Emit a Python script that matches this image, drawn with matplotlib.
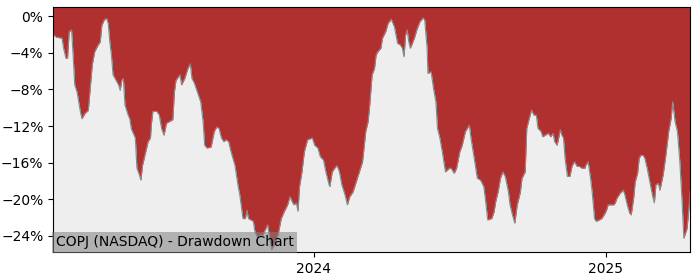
"""Drawdown chart for COPJ (NASDAQ)"""
import matplotlib
matplotlib.use("Agg")
from matplotlib import pyplot as plt
import matplotlib.dates as mdates
from matplotlib.ticker import PercentFormatter, MultipleLocator
import pandas as pd

TITLE = "COPJ (NASDAQ) - Drawdown Chart"
START = "2023-02-08"

# days after START, and drawdown in percent
day_offset = [
    0, 4, 11, 13, 16, 18, 20, 23, 25, 27, 30, 34, 36, 40, 44, 46, 49, 52, 56, 59,
    61, 64, 67, 69, 71, 73, 75, 80, 82, 84, 86, 88, 90, 94, 96, 98, 103, 105, 108, 110,
    112, 115, 119, 122, 123, 125, 130, 133, 136, 139, 142, 146, 150, 152, 154, 159, 161, 165, 169, 172,
    174, 177, 182, 185, 188, 190, 193, 198, 202, 205, 208, 211, 214, 217, 220, 223, 228, 232, 234, 238,
    241, 243, 245, 251, 253, 256, 259, 263, 265, 269, 271, 274, 277, 282, 286, 290, 294, 297, 300, 302,
    305, 307, 309, 312, 315, 319, 325, 328, 332, 335, 339, 342, 346, 347, 350, 353, 356, 359, 362, 366,
    369, 372, 376, 380, 384, 388, 392, 395, 397, 400, 403, 405, 407, 411, 413, 417, 420, 424, 428, 432,
    435, 438, 440, 442, 444, 446, 448, 453, 456, 460, 464, 466, 469, 470, 474, 477, 480, 482, 485, 488,
    492, 497, 499, 503, 506, 510, 513, 517, 522, 524, 528, 532, 536, 540, 542, 545, 550, 553, 555, 558,
    561, 564, 567, 571, 573, 576, 579, 582, 586, 588, 592, 594, 597, 600, 603, 606, 608, 612, 614, 617,
    621, 624, 627, 629, 632, 634, 636, 638, 640, 642, 645, 648, 651, 654, 657, 660, 663, 667, 668, 671,
    674, 676, 679, 681, 685, 688, 691, 694, 696, 699, 703, 705, 707, 711, 715, 717, 720, 723, 725, 728,
    730, 733, 735, 737, 740, 742, 745, 749, 752, 754, 756, 759, 761, 765, 768, 772, 775, 777, 780, 783,
    786, 789, 791, 795, 797, 799,
]
drawdown_pct = [
    -2.0, -2.3, -2.4, -3.5, -4.6, -4.6, -1.7, -1.5, -4.3, -7.5, -8.3, -10.4, -11.2, -10.6, -10.3, -8.3, -5.3, -3.9, -3.2, -2.8,
    -1.0, -0.4, -0.25, -0.8, -2.8, -4.25, -6.4, -7.2, -7.5, -8.1, -7.0, -6.8, -9.7, -10.8, -11.2, -12.3, -13.3, -16.6, -17.3, -17.9,
    -16.3, -15.2, -13.7, -13.3, -11.9, -10.4, -10.4, -10.8, -12.3, -13.0, -11.7, -11.5, -11.3, -8.3, -7.0, -6.4, -7.5, -6.8, -5.7, -5.2,
    -6.8, -7.3, -8.6, -9.35, -11.5, -14.1, -14.4, -14.3, -12.6, -12.1, -12.25, -13.3, -13.7, -13.5, -13.7, -14.8, -16.3, -18.6, -19.5, -22.1,
    -22.1, -21.2, -22.1, -22.4, -23.5, -24.1, -23.9, -23.9, -23.5, -22.8, -23.9, -25.5, -25.0, -23.9, -22.1, -21.3, -20.6, -19.7, -20.3, -20.6,
    -20.4, -21.3, -18.6, -17.0, -14.8, -13.5, -13.3, -14.1, -14.4, -15.35, -15.7, -17.0, -18.4, -18.6, -17.0, -16.6, -16.3, -17.0, -18.4, -19.5,
    -20.6, -19.7, -19.2, -18.1, -17.0, -15.9, -12.6, -11.5, -9.7, -6.4, -5.7, -4.25, -3.9, -3.5, -2.4, -1.7, -0.8, -0.33, -1.17, -2.98,
    -3.1, -3.5, -4.44, -2.07, -1.5, -2.8, -3.5, -2.4, -1.5, -0.6, -0.19, -0.44, -3.5, -6.25, -6.08, -7.89, -9.35, -12.25, -13.3, -14.8,
    -17.0, -16.6, -16.6, -17.16, -16.6, -14.8, -14.1, -12.6, -11.9, -13.3, -15.5, -17.7, -17.9, -18.6, -19.9, -22.25, -22.1, -21.35, -20.26, -19.2,
    -17.7, -17.0, -17.5, -19.2, -20.6, -21.7, -22.6, -20.6, -19.2, -17.7, -17.0, -12.25, -11.2, -10.25, -10.8, -10.8, -12.25, -12.6, -13.17, -13.0,
    -12.8, -13.17, -12.8, -13.7, -14.1, -13.3, -12.4, -13.0, -13.3, -15.5, -17.5, -17.5, -16.3, -15.9, -16.4, -16.4, -16.6, -16.6, -16.3, -15.9,
    -17.7, -19.2, -22.1, -22.4, -22.25, -22.1, -21.7, -21.2, -20.6, -20.6, -20.6, -20.4, -19.9, -19.35, -19.0, -19.5, -20.6, -21.5, -21.7, -19.9,
    -18.1, -17.16, -15.5, -15.2, -15.2, -15.5, -16.6, -18.4, -19.7, -20.4, -18.4, -18.25, -19.0, -17.35, -15.5, -12.6, -11.2, -9.35, -11.5, -12.6,
    -15.9, -20.6, -24.25, -23.2, -21.35, -19.0,
]

dates = pd.Timestamp(START) + pd.to_timedelta(day_offset, unit="D")
y_top, y_bottom = 1.0, -25.75

fig = plt.figure(figsize=(7, 2.8), dpi=100)
ax = fig.add_axes([0.076, 0.1, 0.91, 0.875])
ax.set_facecolor("#eeeeee")

ax.fill_between(dates, drawdown_pct, y_top, color="#b03030", linewidth=0)
ax.plot(dates, drawdown_pct, color="#8a8a8a", linewidth=0.8)

ax.set_xlim(dates[0], dates[-1])
ax.set_ylim(y_bottom, y_top)
ax.yaxis.set_major_locator(MultipleLocator(4))
ax.yaxis.set_major_formatter(PercentFormatter(decimals=0))
ax.xaxis.set_major_locator(mdates.YearLocator())
ax.xaxis.set_major_formatter(mdates.DateFormatter("%Y"))

ax.text(0.004, 0.012, TITLE, transform=ax.transAxes, fontsize=10, va="bottom", ha="left",
        bbox=dict(facecolor="#808080", alpha=0.55, edgecolor="none", pad=2.5))

plt.savefig("out.png", dpi=100)
